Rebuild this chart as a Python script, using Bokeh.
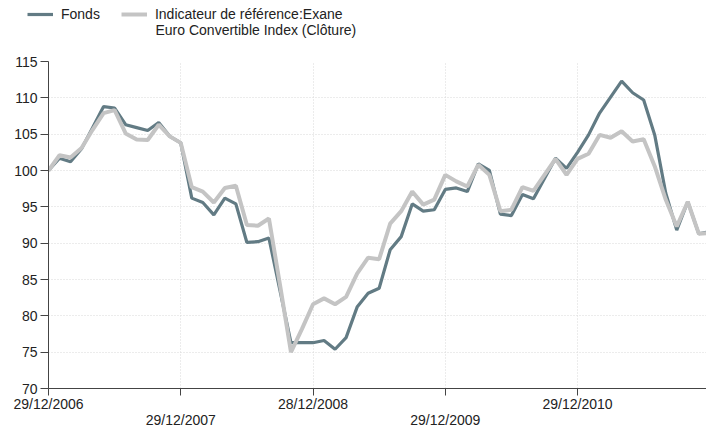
from bokeh.plotting import figure
from bokeh.layouts import column
from bokeh.models import Legend, LegendItem, LinearAxis, FixedTicker, Range1d, Label
from bokeh.embed import file_html
from bokeh.resources import INLINE

# ---- data (monthly, starting 29/12/2006) ----
months = list(range(61))
fonds = [100.0, 101.7, 101.2, 103.0, 105.9, 108.8, 108.6, 106.3, 105.9, 105.5,
         106.6, 104.7, 103.8, 96.2, 95.6, 93.9, 96.2, 95.4, 90.1, 90.2,
         90.7, 83.5, 76.3, 76.3, 76.3, 76.6, 75.4, 77.0, 81.2, 83.1,
         83.8, 89.1, 90.9, 95.4, 94.4, 94.6, 97.4, 97.6, 97.1, 100.9,
         100.0, 94.0, 93.8, 96.7, 96.1, 98.9, 101.7, 100.3, 102.5, 104.9,
         107.9, 110.1, 112.3, 110.7, 109.7, 104.9, 96.9, 91.8, 95.7, 91.3,
         91.6]
reference = [100.0, 102.1, 101.8, 103.1, 105.6, 107.9, 108.3, 105.1, 104.25, 104.2,
             106.3, 104.7, 103.8, 97.7, 97.1, 95.6, 97.6, 97.9, 92.5, 92.4,
             93.4, 84.3, 75.0, 78.2, 81.6, 82.4, 81.6, 82.6, 85.8, 88.0,
             87.8, 92.7, 94.4, 97.1, 95.3, 96.0, 99.4, 98.5, 97.8, 100.8,
             99.4, 94.4, 94.6, 97.7, 97.2, 99.4, 101.6, 99.4, 101.6, 102.3,
             104.9, 104.5, 105.4, 104.0, 104.3, 100.6, 96.0, 92.3, 95.7, 91.3,
             91.4]
series_names = ["Fonds", "Indicateur de référence:Exane"]
series_name_line2 = "Euro Convertible Index (Clôture)"
tick_months = [0, 12, 24, 36, 48]
tick_labels = ["29/12/2006", "29/12/2007", "28/12/2008", "29/12/2009", "29/12/2010"]
y_ticks = [70, 75, 80, 85, 90, 95, 100, 105, 110, 115]

FONT = "Liberation Sans"
DARK = "#627b84"
LIGHT = "#c4c4c4"
W_DARK = 3.2
W_LIGHT = 4

# ---------------- legend strip ----------------
LEG_H = 50
pl = figure(width=706, height=LEG_H, output_backend="svg", toolbar_location=None,
            x_axis_location=None, y_axis_location=None,
            min_border_left=0, min_border_right=0, min_border_top=0, min_border_bottom=0)
pl.frame_align = False
pl.outline_line_color = None
pl.xgrid.visible = False
pl.ygrid.visible = False
# hidden copies of the series, used only for the legend samples
d1 = pl.line(months, fonds, line_color=DARK, line_width=W_DARK, visible=False)
d2 = pl.line(months, reference, line_color=LIGHT, line_width=W_LIGHT, visible=False)

legend = Legend(items=[LegendItem(label=series_names[0], renderers=[d1]),
                       LegendItem(label=series_names[1], renderers=[d2])],
                orientation="horizontal", location=(27, LEG_H - 22))
legend.border_line_color = None
legend.background_fill_alpha = 0
legend.label_text_font = FONT
legend.label_text_font_size = "14px"
legend.label_text_color = "#222222"
legend.glyph_width = 26
legend.glyph_height = 14
legend.label_height = 14
legend.label_standoff = 8
legend.spacing = 21
legend.padding = 0
legend.margin = 0
pl.add_layout(legend, "center")

line2 = Label(x=155, y=LEG_H - 29, x_units="screen", y_units="screen", text=series_name_line2,
              text_font=FONT, text_font_size="14px", text_color="#222222",
              text_baseline="middle", text_align="left")
pl.add_layout(line2)

# ---------------- main chart ----------------
p = figure(width=706, height=430 - LEG_H, output_backend="svg", toolbar_location=None,
           x_range=Range1d(0, 59.7), y_range=Range1d(70, 115),
           min_border_left=48, min_border_right=0, min_border_top=11, min_border_bottom=0)
p.frame_align = False
p.outline_line_color = None
p.background_fill_color = "white"

r1 = p.line(months, fonds, line_color=DARK, line_width=W_DARK)
r2 = p.line(months, reference, line_color=LIGHT, line_width=W_LIGHT)

# y axis
yax = p.yaxis[0]
yax.ticker = FixedTicker(ticks=y_ticks)
yax.major_label_text_font = FONT
yax.major_label_text_font_size = "14px"
yax.major_label_text_color = "#222222"
yax.major_tick_out = 8
yax.major_tick_in = 0
yax.minor_tick_line_color = None
yax.axis_line_color = "#444444"
yax.major_tick_line_color = "#444444"
yax.major_label_standoff = 3

# x axis (row 1)
xax = p.xaxis[0]
xax.ticker = FixedTicker(ticks=tick_months)
xax.major_label_overrides = {m: (lab if i % 2 == 0 else " ") for i, (m, lab) in enumerate(zip(tick_months, tick_labels))}
xax.major_label_text_font = FONT
xax.major_label_text_font_size = "14px"
xax.major_label_text_color = "#222222"
xax.major_tick_out = 7
xax.major_tick_in = 0
xax.minor_tick_line_color = None
xax.axis_line_color = "#444444"
xax.major_tick_line_color = "#444444"
xax.major_label_standoff = 0

# x axis (row 2, staggered labels)
odd_ticks = [m for i, m in enumerate(tick_months) if i % 2 == 1]
xax2 = LinearAxis(ticker=FixedTicker(ticks=odd_ticks),
                  major_label_overrides={m: lab for i, (m, lab) in enumerate(zip(tick_months, tick_labels)) if i % 2 == 1})
xax2.axis_line_color = None
xax2.major_tick_line_color = None
xax2.major_tick_out = 0
xax2.major_tick_in = 0
xax2.minor_tick_line_color = None
xax2.major_label_standoff = -3
xax2.major_label_text_font = FONT
xax2.major_label_text_font_size = "14px"
xax2.major_label_text_color = "#222222"
p.add_layout(xax2, "below")

# grids
p.xgrid.ticker = FixedTicker(ticks=tick_months)
p.ygrid.ticker = FixedTicker(ticks=y_ticks)
for g in (p.xgrid, p.ygrid):
    g.grid_line_color = "#d8d8d8"
    g.grid_line_dash = "1 2"
    g.grid_line_width = 1

layout = column(pl, p, spacing=0)
open("out.html", "w").write(file_html(layout, INLINE))
